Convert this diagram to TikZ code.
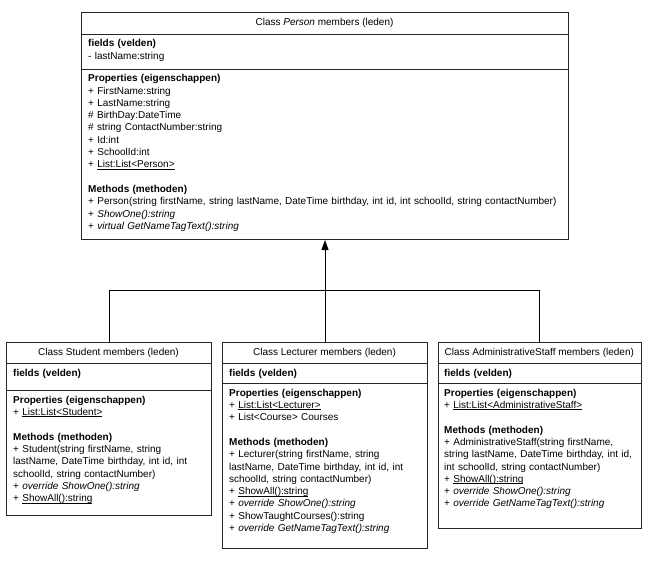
\documentclass[tikz,border=0pt]{standalone}
\usepackage{fontspec}
\setmainfont{Liberation Sans}
\usetikzlibrary{arrows.meta}
\newcommand\ulin[1]{\setbox0\hbox{#1}\rlap{\rule[-1.5pt]{\wd0}{0.55pt}}\box0}
\begin{document}
\begin{tikzpicture}[x=1pt,y=-1pt,
  umlbox/.style={draw=black!85,line width=1pt,fill=white,rectangle,inner sep=0pt,anchor=north west},
  sepline/.style={draw=black!85,line width=1pt},
  title/.style={inner sep=0pt,anchor=center,font=\fontsize{10}{12.3}\selectfont,text=black},
  sect/.style={inner sep=0pt,anchor=north west,align=left,font=\fontsize{10}{12.3}\selectfont,text=black},
  conn/.style={draw=black,line width=1pt}]
\useasboundingbox (0,0) rectangle (650,562);
% boxes
\node[umlbox,minimum width=487pt,minimum height=227pt] (person) at (81,12) {};
\node[umlbox,minimum width=205pt,minimum height=173pt] (student) at (6,342) {};
\node[umlbox,minimum width=205pt,minimum height=206pt] (lecturer) at (222,342) {};
\node[umlbox,minimum width=203.5pt,minimum height=185.5pt] (admin) at (437.5,342) {};
% separators
\draw[sepline] (81,34) -- (568,34);
\draw[sepline] (81,69) -- (568,69);
\draw[sepline] (6,363) -- (211,363);
\draw[sepline] (6,390) -- (211,390);
\draw[sepline] (222,363) -- (427,363);
\draw[sepline] (222,383) -- (427,383);
\draw[sepline] (437.5,363) -- (641,363);
\draw[sepline] (437.5,383) -- (641,383);
% titles
\node[title] (pt) at (324.5,23) {Class \textit{Person} members (leden)};
\node[title] (st) at (108.5,352.5) {Class Student members (leden)};
\node[title] (lt) at (324.5,352.5) {Class Lecturer members (leden)};
\node[title] (at) at (539.25,352.5) {Class AdministrativeStaff members (leden)};
% person
\node[sect,text width=475pt] (pf) at (88,37.9) {\strut\textbf{fields (velden)}\\- lastName:string};
\node[sect,text width=475pt] (pp) at (88,72.9) {\strut\textbf{Properties (eigenschappen)}\\
+ FirstName:string\\
+ LastName:string\\
\# BirthDay:DateTime\\
\# string ContactNumber:string\\
+ Id:int\\
+ SchoolId:int\\
+ \ulin{List:List<Person>}\\
\mbox{}\\
\textbf{Methods (methoden)}\\
+ Person(string firstName, string lastName, DateTime birthday, int id, int schoolId, string contactNumber)\\
+ \textit{ShowOne():string}\\
+ \textit{virtual GetNameTagText():string}};
% student
\node[sect,text width=200pt] (sf) at (13,367.4) {\strut\textbf{fields (velden)}};
\node[sect,text width=200pt] (sp) at (13,394.4) {\strut\textbf{Properties (eigenschappen)}\\
+ \ulin{List:List<Student>}\\
\mbox{}\\
\textbf{Methods (methoden)}\\
+ Student(string firstName, string\\
lastName, DateTime birthday, int id, int\\
schoolId, string contactNumber)\\
+ \textit{override ShowOne():string}\\
+ \ulin{ShowAll():string}};
% lecturer
\node[sect,text width=200pt] (lf) at (229,367.4) {\strut\textbf{fields (velden)}};
\node[sect,text width=200pt] (lp) at (229,387.4) {\strut\textbf{Properties (eigenschappen)}\\
+ \ulin{List:List<Lecturer>}\\
+ List<Course> Courses\\
\mbox{}\\
\textbf{Methods (methoden)}\\
+ Lecturer(string firstName, string\\
lastName, DateTime birthday, int id, int\\
schoolId, string contactNumber)\\
+ \ulin{ShowAll():string}\\
+ \textit{override ShowOne():string}\\
+ ShowTaughtCourses():string\\
+ \textit{override GetNameTagText():string}};
% admin
\node[sect,text width=200pt] (af) at (444,367.4) {\strut\textbf{fields (velden)}};
\node[sect,text width=200pt] (ap) at (444,387.4) {\strut\textbf{Properties (eigenschappen)}\\
+ \ulin{List:List<AdministrativeStaff>}\\
\mbox{}\\
\textbf{Methods (methoden)}\\
+ AdministrativeStaff(string firstName,\\
string lastName, DateTime birthday, int id,\\
int schoolId, string contactNumber)\\
+ \ulin{ShowAll():string}\\
+ \textit{override ShowOne():string}\\
+ \textit{override GetNameTagText():string}};
% connectors
\coordinate (j) at (324.5,290.5);
\draw[conn,-{Triangle[width=7pt,length=10pt]}] (lecturer.north) -- (person.south);
\draw[conn] (student.north) |- (j) -| (admin.north);
\end{tikzpicture}
\end{document}
